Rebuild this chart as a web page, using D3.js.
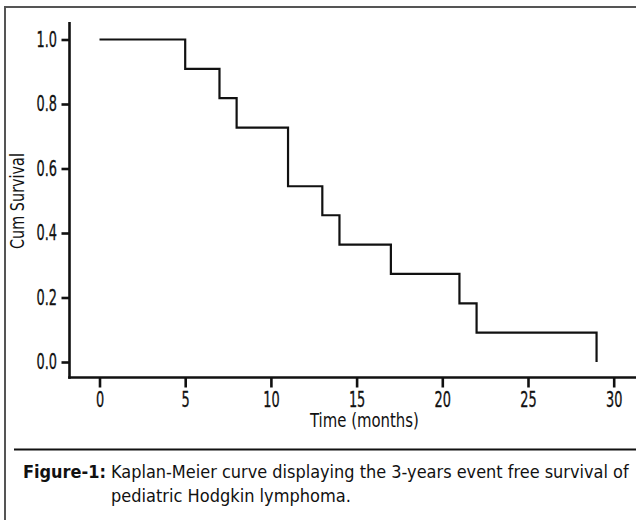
<!DOCTYPE html>
<meta charset="utf-8">
<script src="https://d3js.org/d3.v7.min.js"></script>
<style>
  body { margin: 0; background: #fff; }
  text { font-family: "DejaVu Sans Condensed", "DejaVu Sans", sans-serif; font-stretch: condensed; fill: #111; }
</style>
<div id="chart"></div>
<script>
// Kaplan-Meier steps
const months = [0, 5, 7, 8, 11, 13, 14, 17, 21, 22, 29];
const cumSurvival = [1.0, 0.909, 0.818, 0.727, 0.545, 0.455, 0.364, 0.273, 0.182, 0.091, 0.0];
const xTicks = [0, 5, 10, 15, 20, 25, 30];
const yTicks = [0.0, 0.2, 0.4, 0.6, 0.8, 1.0];

const W = 636, H = 520;
const squeeze = 0.7; // narrow the glyphs to look like a condensed face

const svg = d3.select("#chart")
  .append("svg")
  .attr("width", W)
  .attr("height", H);

// outer frame
svg.append("rect")
  .attr("x", 5).attr("y", 7)
  .attr("width", W + 10).attr("height", H + 10)
  .attr("fill", "none")
  .attr("stroke", "#555")
  .attr("stroke-width", 2);

const x = d3.scaleLinear().domain([0, 30]).range([99.5, 613.7]);
const y = d3.scaleLinear().domain([0, 1]).range([362, 39.5]);

const axisX = 69.5, axisY = 377.5;

function narrow(sel) {
  sel.each(function () {
    const t = d3.select(this);
    const tx = +t.attr("x") || 0;
    t.attr("x", tx / squeeze).attr("transform", `scale(${squeeze},1)`);
  });
}

// put a text at (px, py) and squeeze it horizontally to a given width
function fitText(px, py, str, width, size, rotate, bold) {
  const g = svg.append("g")
    .attr("transform", `translate(${px}, ${py})` + (rotate ? ` rotate(${rotate})` : ""));
  const t = g.append("text")
    .style("font-size", size + "px")
    .style("font-weight", bold ? "bold" : "normal")
    .text(str);
  const natural = t.node().getComputedTextLength();
  t.attr("transform", `scale(${width / natural},1)`);
  return t;
}

// x axis
const gx = svg.append("g")
  .attr("transform", `translate(0, ${axisY})`)
  .call(d3.axisBottom(x).tickValues(xTicks).tickSize(10).tickPadding(4.5).tickFormat(d3.format("d")));
gx.select(".domain").remove();
gx.selectAll(".tick line").attr("stroke", "#111").attr("stroke-width", 2.6);
gx.selectAll(".tick text").style("font-size", "20.5px").attr("fill", "#111")
  .attr("stroke", "#111").attr("stroke-width", 0.3).call(narrow);
gx.append("line")
  .attr("x1", axisX - 1.3).attr("x2", W)
  .attr("y1", 0).attr("y2", 0)
  .attr("stroke", "#111").attr("stroke-width", 2.6);

// y axis
const gy = svg.append("g")
  .attr("transform", `translate(${axisX}, 0)`)
  .call(d3.axisLeft(y).tickValues(yTicks).tickSize(8).tickPadding(4.5).tickFormat(d3.format(".1f")));
gy.select(".domain").remove();
gy.selectAll(".tick line").attr("stroke", "#111").attr("stroke-width", 2.6);
gy.selectAll(".tick text").style("font-size", "20.5px").attr("fill", "#111")
  .attr("stroke", "#111").attr("stroke-width", 0.3).call(narrow);
gy.append("line")
  .attr("x1", 0).attr("x2", 0)
  .attr("y1", y(1) - 17.5).attr("y2", axisY + 1.3)
  .attr("stroke", "#111").attr("stroke-width", 2.6);

// axis titles
fitText(310, 427, "Time (months)", 109, 19.5);
fitText(23.5, 249, "Cum Survival", 96, 19.5, -90);

// survival curve
const pts = months.map((m, i) => [m, cumSurvival[i]]);
const line = d3.line()
  .x(d => x(d[0]))
  .y(d => y(d[1]))
  .curve(d3.curveStepAfter);

svg.append("path")
  .datum(pts)
  .attr("d", line)
  .attr("fill", "none")
  .attr("stroke", "#111")
  .attr("stroke-width", 2.2);

// caption
svg.append("line")
  .attr("x1", 14).attr("x2", W)
  .attr("y1", 449.5).attr("y2", 449.5)
  .attr("stroke", "#111").attr("stroke-width", 2);

fitText(23, 478, "Figure-1:", 83, 18.5, 0, true);
fitText(111, 478, "Kaplan-Meier curve displaying the 3-years event free survival of", 518, 18.5);
fitText(111, 502, "pediatric Hodgkin lymphoma.", 240, 18.5);
</script>
